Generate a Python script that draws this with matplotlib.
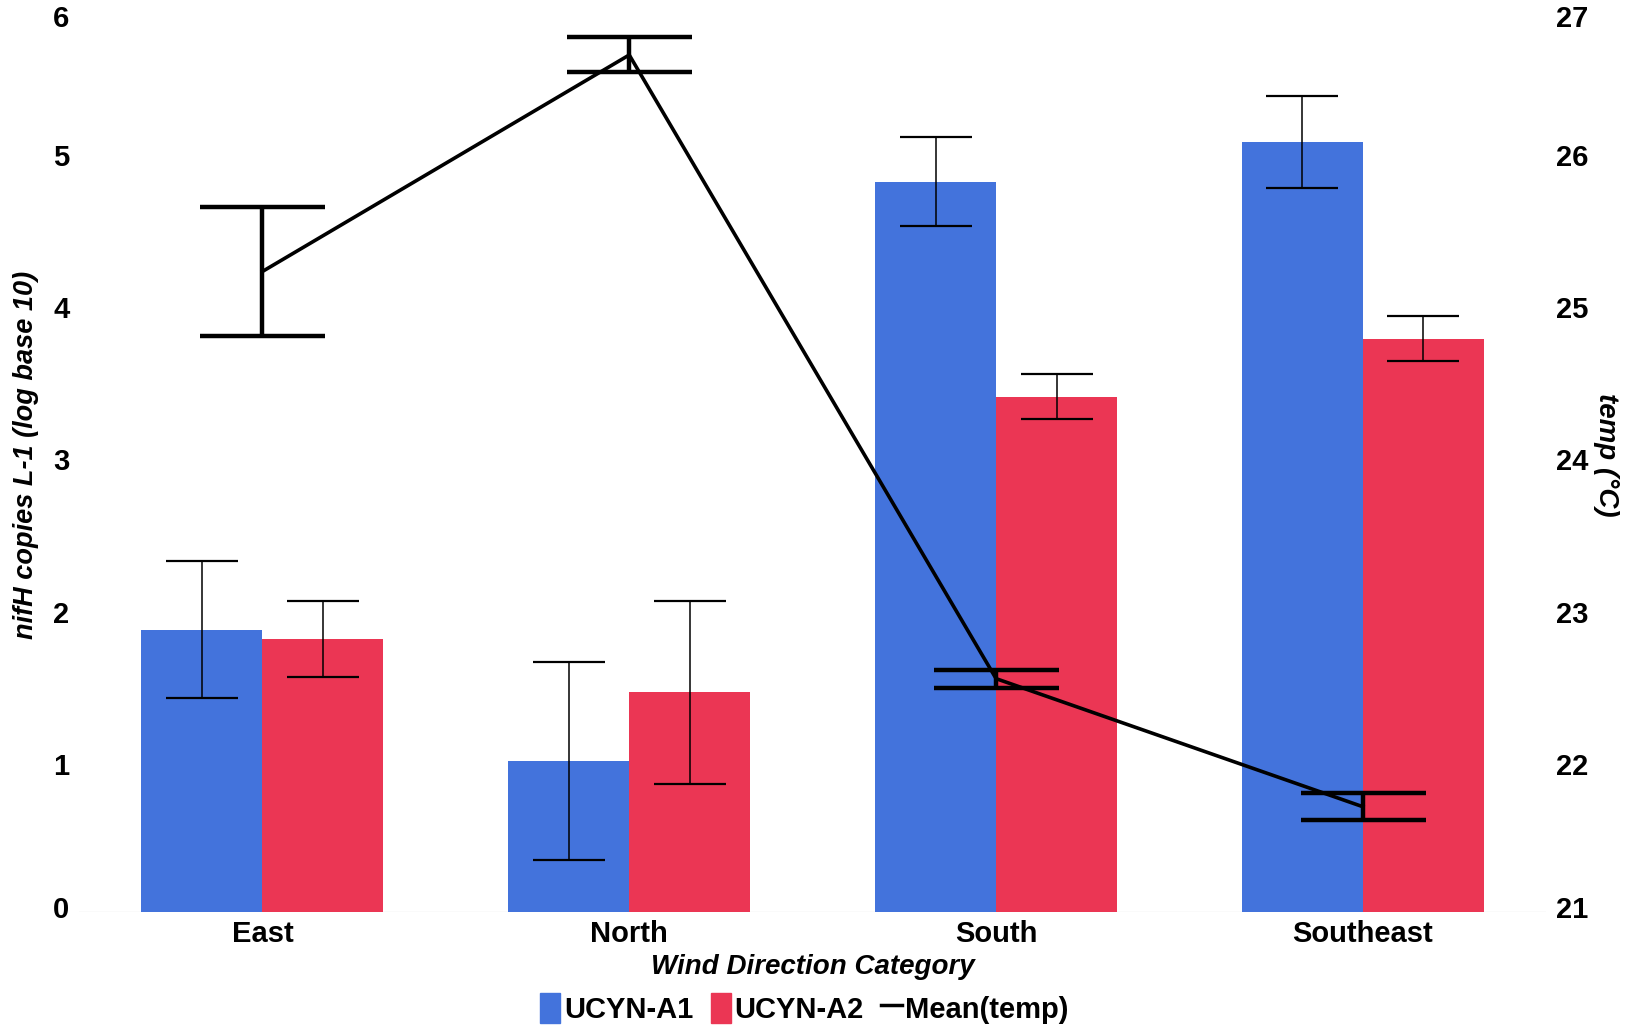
import numpy as np
import matplotlib
matplotlib.use("Agg")
import matplotlib.pyplot as plt
from matplotlib.patches import Patch
from matplotlib.lines import Line2D
from matplotlib.transforms import ScaledTranslation

plt.rcParams['font.family'] = ['Liberation Sans', 'DejaVu Sans']

# data
categories = ["East", "North", "South", "Southeast"]
ucyn_a1 = [1.85, 0.99, 4.79, 5.05]
ucyn_a1_err = [0.45, 0.65, 0.29, 0.30]
ucyn_a2 = [1.79, 1.44, 3.38, 3.76]
ucyn_a2_err = [0.25, 0.60, 0.145, 0.15]
temp_mean = [25.20, 26.62, 22.53, 21.69]
temp_err = [0.425, 0.115, 0.06, 0.09]

blue = "#4373DC"
red = "#EB3654"

fig = plt.figure(figsize=(16.25, 10.3), dpi=100)
ax = fig.add_axes([0.0486, 0.1146, 0.903, 0.8883])

x = np.arange(len(categories))
w = 0.33
ax.bar(x - w / 2, ucyn_a1, w, color=blue, zorder=2)
ax.bar(x + w / 2, ucyn_a2, w, color=red, zorder=2)
ax.errorbar(x - w / 2, ucyn_a1, yerr=ucyn_a1_err, fmt='none', ecolor='black',
            elinewidth=1.1, capsize=26, capthick=1.6, zorder=3)
ax.errorbar(x + w / 2, ucyn_a2, yerr=ucyn_a2_err, fmt='none', ecolor='black',
            elinewidth=1.1, capsize=26, capthick=1.6, zorder=3)
ax.axhline(0, color='#e6e6e6', lw=1, zorder=1)

ax.set_xlim(-0.5, 3.5)
ax.set_ylim(0, 6)
ax.set_yticks(range(7))
ax.set_xticks(x)
ax.set_xticklabels(categories, fontsize=22.5, fontweight='bold')
ax.tick_params(axis='both', length=0, labelsize=21)
ax.tick_params(axis='y', pad=7)
ax.tick_params(axis='x', pad=6)
for lab in ax.get_yticklabels():
    lab.set_fontweight('bold')
for s in ax.spines.values():
    s.set_visible(False)

ax.set_xlabel("Wind Direction Category", fontsize=20, fontweight='bold',
              fontstyle='italic', labelpad=4)
ax.set_ylabel("nifH copies L-1 (log base 10)", fontsize=19.5, fontweight='bold',
              fontstyle='italic', labelpad=10)

ax2 = ax.twinx()
ax2.errorbar(x, temp_mean, yerr=temp_err, color='black', lw=2.6,
             elinewidth=3.2, capsize=45, capthick=3.2, zorder=4)
ax2.set_ylim(21, 27)
ax2.set_yticks(range(21, 28))
ax2.tick_params(axis='y', length=0, labelsize=21, pad=7)
for lab in ax2.get_yticklabels():
    lab.set_fontweight('bold')
for s in ax2.spines.values():
    s.set_visible(False)
ax2.set_ylabel("temp (°C)", fontsize=20, fontweight='bold', fontstyle='italic',
               rotation=270, labelpad=22)

# keep the top and bottom tick labels inside the picture, as in the reference
for a in (ax, ax2):
    labs = a.get_yticklabels()
    labs[-1].set_transform(labs[-1].get_transform() +
                           ScaledTranslation(0, -0.19, fig.dpi_scale_trans))
    labs[0].set_transform(labs[0].get_transform() +
                          ScaledTranslation(0, 0.05, fig.dpi_scale_trans))
    for lab in labs[1:-1]:
        lab.set_transform(lab.get_transform() +
                          ScaledTranslation(0, -0.05, fig.dpi_scale_trans))

handles = [Patch(color=blue, label="UCYN-A1"),
           Patch(color=red, label="UCYN-A2"),
           Line2D([], [], color='black', lw=2.5, label="Mean(temp)")]
fig.legend(handles=handles, loc='center', bbox_to_anchor=(0.495, 0.021), ncol=3,
           frameon=False, prop={'size': 21, 'weight': 'bold'},
           handlelength=0.7, handleheight=1.2, handletextpad=0.12,
           columnspacing=0.6, borderpad=0)

fig.savefig("out.png", dpi=100)
